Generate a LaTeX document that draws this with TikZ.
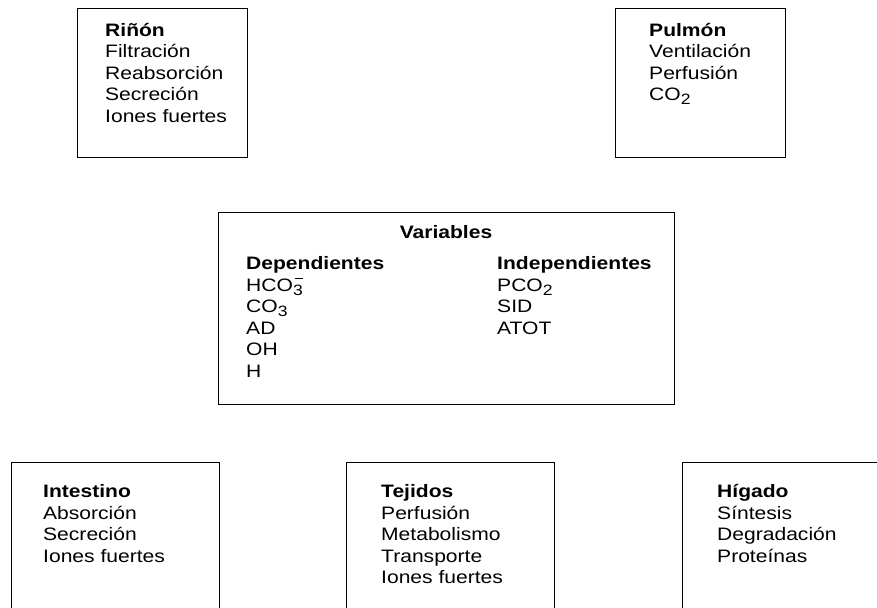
\documentclass[tikz,border=0pt]{standalone}
\usepackage{fontspec}
\setmainfont{Liberation Sans}[FakeStretch=1.17]
\newcommand{\subind}[1]{\raisebox{-4pt}{\fontsize{15}{15}\selectfont #1}}
\tikzset{
  caja/.style={draw, line width=.8pt},
  lista/.style={anchor=base west, inner sep=0pt, align=left,
    font=\fontsize{18}{21.5}\selectfont},
}
\begin{document}
\begin{tikzpicture}[x=1pt,y=-1pt]
  \useasboundingbox (0,0) rectangle (877,607);
  \clip (0,0) rectangle (877,607);
  % organos de arriba (base = ultima linea)
  \draw[caja] (77,8) rectangle (247,157);
  \draw[caja] (615,8) rectangle (785,157);
  \node[lista] (rinon) at (105,122.5) {\textbf{Riñón}\\Filtración\\Reabsorción\\Secreción\\Iones fuertes};
  \node[lista] (pulmon) at (649,101) {\textbf{Pulmón}\\Ventilación\\Perfusión\\CO\subind{2}};
  % variables
  \draw[caja] (218,212) rectangle (674,404);
  \node[lista, anchor=base] (vars) at (446,238) {\textbf{Variables}};
  \node[lista] (dep) at (246,377) {\textbf{Dependientes}\\HCO\subind{3}\llap{\raisebox{12.5pt}{\rule{8pt}{.8pt}}}\\CO\subind{3}\\AD\\OH\\H};
  \node[lista] (indep) at (497,334) {\textbf{Independientes}\\PCO\subind{2}\\SID\\ATOT};
  % organos de abajo
  \draw[caja] (11,462) rectangle (219,640);
  \draw[caja] (346,462) rectangle (554,640);
  \draw[caja] (682,462) rectangle (900,640);
  \node[lista] (intestino) at (43,562) {\textbf{Intestino}\\Absorción\\Secreción\\Iones fuertes};
  \node[lista] (tejidos) at (381,583.5) {\textbf{Tejidos}\\Perfusión\\Metabolismo\\Transporte\\Iones fuertes};
  \node[lista] (higado) at (717,562) {\textbf{Hígado}\\Síntesis\\Degradación\\Proteínas};
\end{tikzpicture}
\end{document}
